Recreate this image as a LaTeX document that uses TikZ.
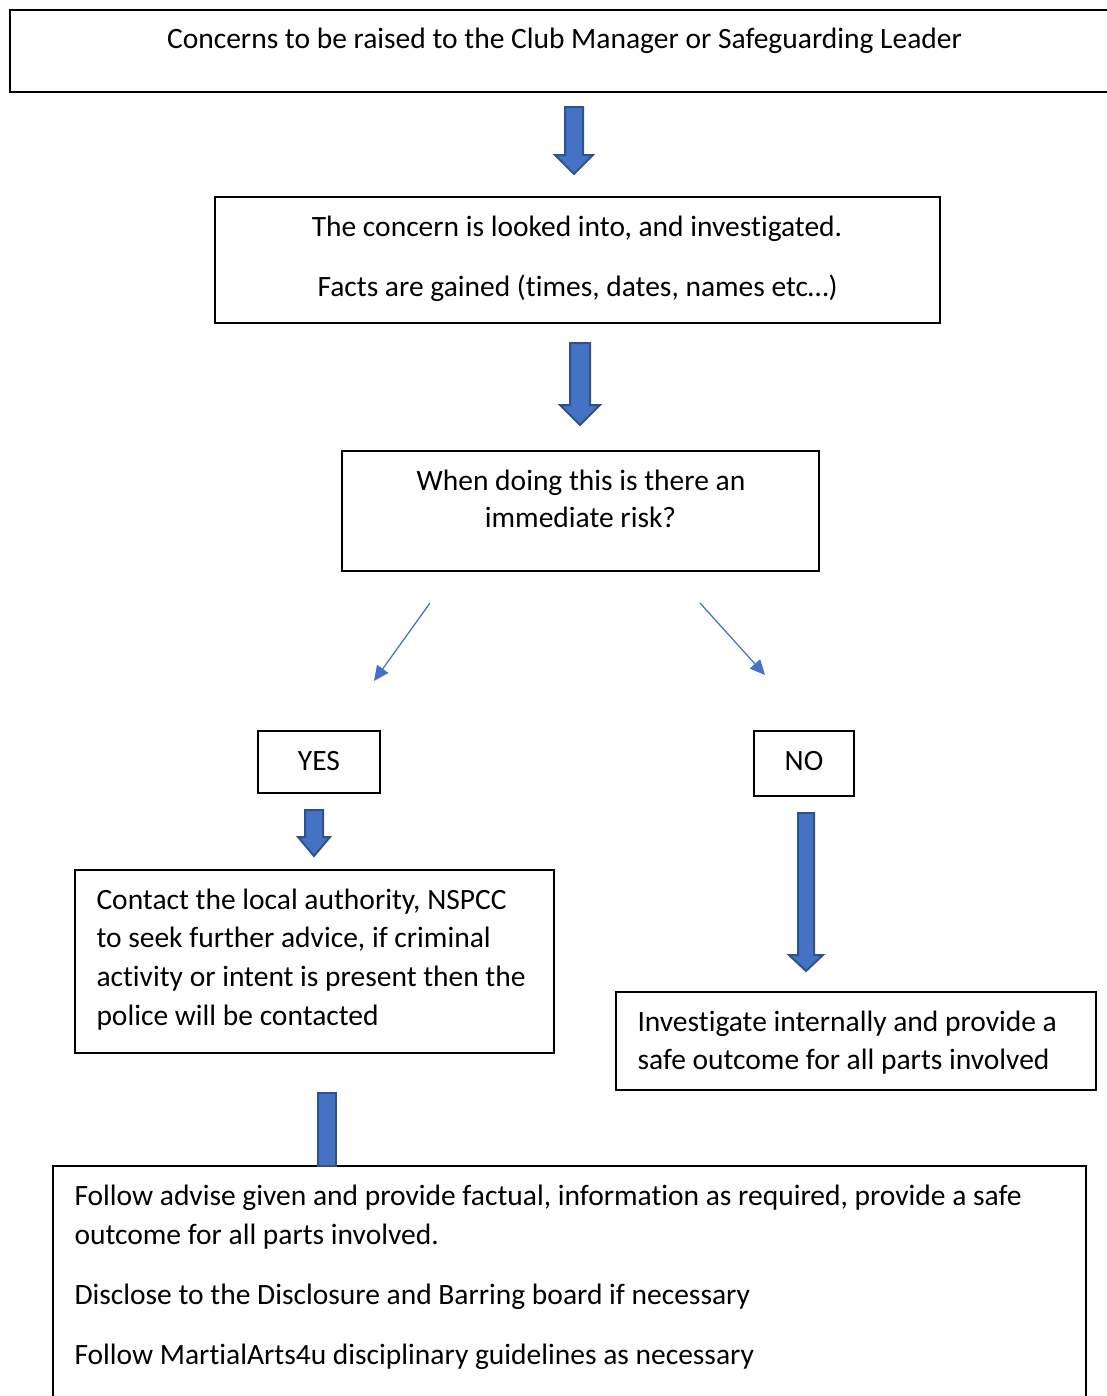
\documentclass[tikz,border=0pt]{standalone}
\usepackage{fontspec}
\setmainfont{Carlito}[Ligatures=NoCommon]
\definecolor{arrowblue}{HTML}{4472C4}
\definecolor{arrowedge}{HTML}{2F528F}
\tikzset{
  box/.style={draw=black, line width=0.8pt, inner sep=0pt},
  txt/.style={inner sep=0pt, font=\fontsize{11.8}{14}\selectfont},
  blockarrow/.style={fill=arrowblue, draw=arrowedge, line width=0.8pt, line join=miter},
  thinarrow/.style={draw=arrowblue, line width=0.5pt, -{Triangle[length=6pt,width=5.5pt]}}
}
\usetikzlibrary{arrows.meta}
% centre x, top, start of head, tip, half shaft, half head
\newcommand{\downarrowblock}[6]{%
  \filldraw[blockarrow] (#1-#5,#2) -- (#1+#5,#2) -- (#1+#5,#3) -- (#1+#6,#3)
    -- (#1,#4) -- (#1-#6,#3) -- (#1-#5,#3) -- cycle;}
\begin{document}
\begin{tikzpicture}[x=0.4pt, y=-0.4pt]
    \useasboundingbox (0,0) rectangle (1107,1396);
    \clip (0,0) rectangle (1107,1396);
    % boxes
    \node[box, minimum width=444pt, minimum height=32.8pt] (raise) at (565,51) {};
    \node[box, minimum width=290pt, minimum height=50.4pt] (lookinto) at (577.5,260) {};
    \node[box, minimum width=190.8pt, minimum height=48pt] (risk) at (580.5,511) {};
    \node[box, minimum width=48.8pt, minimum height=24.8pt] (yes) at (319,762) {};
    \node[box, minimum width=40pt, minimum height=26pt] (no) at (804,763.5) {};
    \node[box, minimum width=191.6pt, minimum height=73.2pt] (contact) at (314.5,961.5) {};
    \node[box, minimum width=192pt, minimum height=39.2pt] (internal) at (856,1041) {};
    \node[box, minimum width=413.2pt, minimum height=101.6pt] (follow) at (569.5,1293) {};
    % centred texts
    \node[txt, anchor=base] (raiset) at (564.5,48) {Concerns to be raised to the Club Manager or Safeguarding Leader};
    \node[txt, anchor=base] (lookt1) at (577,236) {The concern is looked into, and investigated.};
    \node[txt, anchor=base] (lookt2) at (577.5,296) {Facts are gained (times, dates, names etc…)};
    \node[txt, anchor=base] (riskt1) at (581,490) {When doing this is there an};
    \node[txt, anchor=base] (riskt2) at (580.5,527) {immediate risk?};
    \node[txt, anchor=base] (yest) at (319,770) {YES};
    \node[txt, anchor=base] (not) at (804,770) {NO};
    % left aligned texts
    \foreach \ty/\tx in {909/{Contact the local authority, NSPCC},
                         947/{to seek further advice, if criminal},
                         986/{activity or intent is present then the},
                         1025/{police will be contacted}}
    \node[txt, anchor=base west] (contact\ty) at (96,\ty) {\tx};
    \foreach \ty/\tx in {1031/{Investigate internally and provide a},
                         1069/{safe outcome for all parts involved}}
    \node[txt, anchor=base west] (internal\ty) at (637,\ty) {\tx};
    \foreach \ty/\tx in {1205/{Follow advise given and provide factual, information as required, provide a safe},
                         1244/{outcome for all parts involved.},
                         1304/{Disclose to the Disclosure and Barring board if necessary},
                         1364/{Follow MartialArts4u disciplinary guidelines as necessary}}
    \node[txt, anchor=base west] (follow\ty) at (74,\ty) {\tx};
    % block arrows
    \downarrowblock{574}{107}{155}{174}{9}{19}
    \downarrowblock{580}{343}{405}{425}{10}{20}
    \downarrowblock{314}{810}{837}{856}{9}{16}
    \downarrowblock{806}{813}{955}{971}{8}{17}
    \filldraw[blockarrow] (318,1093) rectangle (336,1166);
    % thin arrows
    \coordinate (yesfrom) at (430,603);
    \coordinate (yesto) at (374,681);
    \coordinate (nofrom) at (700,603);
    \coordinate (noto) at (765,675);
    \draw[thinarrow] (yesfrom) -- (yesto);
    \draw[thinarrow] (nofrom) -- (noto);
\end{tikzpicture}
\end{document}
